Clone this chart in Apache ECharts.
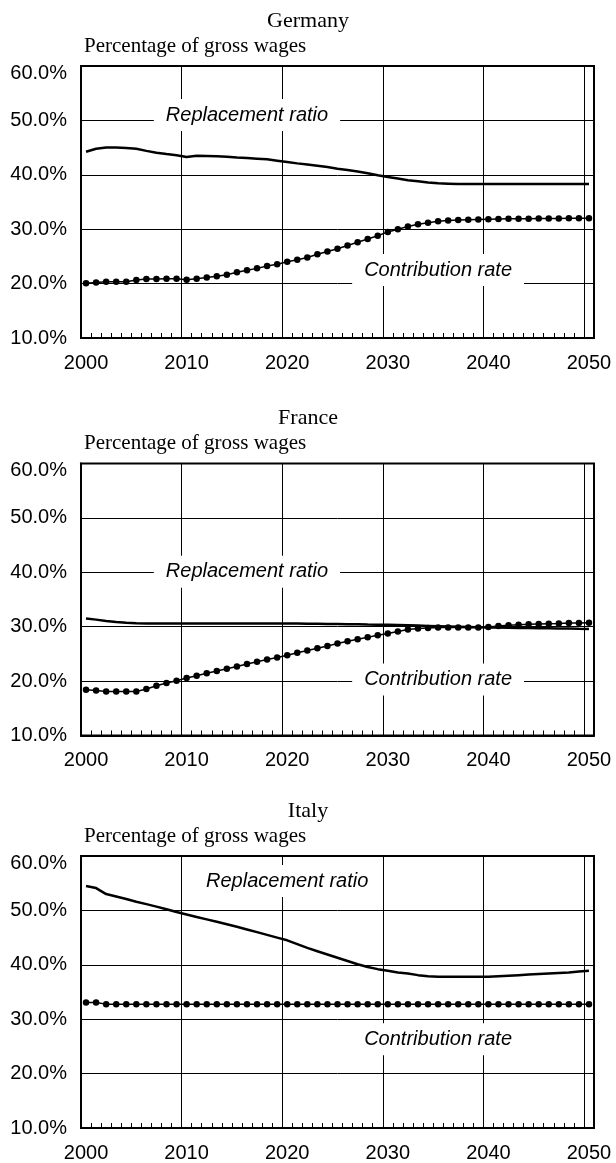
<!DOCTYPE html>
<html><head><meta charset="utf-8">
<script src="https://cdn.jsdelivr.net/npm/echarts@6/dist/echarts.min.js"></script>
<style>html,body{margin:0;padding:0;background:#fff}#c{width:616px;height:1163px}</style>
</head><body><div id="c"></div>
<script>
// ---------------- DATA ----------------
const years = ['2000','2001','2002','2003','2004','2005','2006','2007','2008','2009',
  '2010','2011','2012','2013','2014','2015','2016','2017','2018','2019',
  '2020','2021','2022','2023','2024','2025','2026','2027','2028','2029',
  '2030','2031','2032','2033','2034','2035','2036','2037','2038','2039',
  '2040','2041','2042','2043','2044','2045','2046','2047','2048','2049','2050'];
const panelTitles = ['Germany', 'France', 'Italy'];
const unitLabel = 'Percentage of gross wages';
const seriesNames = ['Replacement ratio', 'Contribution rate'];
const yTickValues = [10, 20, 30, 40, 50, 60];

const germanyReplacement = [44.25,44.8,45.0,45.0,44.93,44.8,44.4,44.07,43.82,43.58,
  43.27,43.52,43.46,43.4,43.33,43.2,43.09,42.97,42.84,42.6,
  42.35,42.1,41.9,41.67,41.43,41.13,40.9,40.6,40.27,39.9,
  39.6,39.3,39.0,38.8,38.6,38.44,38.37,38.3,38.3,38.3,
  38.3,38.3,38.3,38.3,38.3,38.3,38.3,38.3,38.3,38.3,38.3];
const germanyContribution = [20.05,20.2,20.35,20.35,20.35,20.66,20.85,20.85,20.9,20.9,
  20.72,20.9,21.1,21.34,21.64,22.07,22.44,22.8,23.24,23.54,
  24.0,24.4,24.8,25.4,25.9,26.4,27.0,27.6,28.2,28.8,
  29.5,30.0,30.5,30.9,31.2,31.45,31.6,31.7,31.75,31.8,
  31.85,31.88,31.9,31.9,31.92,31.95,31.95,31.97,32.0,32.0,32.0];

const franceReplacement = [31.5,31.3,31.05,30.85,30.73,30.62,30.6,30.6,30.6,30.6,
  30.6,30.6,30.6,30.6,30.6,30.6,30.6,30.6,30.6,30.6,
  30.6,30.58,30.56,30.53,30.5,30.48,30.46,30.43,30.4,30.38,
  30.35,30.3,30.25,30.2,30.15,30.1,30.05,30.0,29.95,29.9,
  29.85,29.83,29.8,29.77,29.75,29.72,29.7,29.67,29.65,29.62,29.6];
const franceContribution = [18.43,18.25,18.07,18.07,18.07,18.07,18.55,19.16,19.65,20.07,
  20.57,21.0,21.43,21.85,22.27,22.7,23.13,23.55,23.98,24.35,
  24.77,25.2,25.63,26.05,26.47,26.9,27.33,27.7,28.06,28.43,
  28.73,29.1,29.47,29.65,29.77,29.85,29.85,29.85,29.85,29.85,
  29.95,30.13,30.25,30.37,30.43,30.5,30.55,30.6,30.67,30.7,30.73];

const italyReplacement = [54.5,54.1,53.0,52.55,52.1,51.6,51.15,50.7,50.2,49.7,
  49.25,48.8,48.35,47.9,47.45,47.0,46.5,46.0,45.5,45.0,
  44.5,43.8,43.1,42.5,41.9,41.3,40.7,40.1,39.6,39.2,
  38.9,38.6,38.4,38.1,37.9,37.8,37.8,37.8,37.8,37.8,
  37.8,37.9,38.0,38.1,38.2,38.3,38.4,38.5,38.6,38.75,38.9];
const italyContribution = [33.08,33.08,32.77,32.77,32.77,32.77,32.77,32.77,32.77,32.77,
  32.77,32.77,32.77,32.77,32.77,32.77,32.77,32.77,32.77,32.77,
  32.77,32.77,32.77,32.77,32.77,32.77,32.77,32.77,32.77,32.77,
  32.77,32.77,32.77,32.77,32.77,32.77,32.77,32.77,32.77,32.77,
  32.77,32.77,32.77,32.77,32.77,32.77,32.77,32.77,32.77,32.77,32.77];

const replacementSets = [germanyReplacement, franceReplacement, italyReplacement];
const contributionSets = [germanyContribution, franceContribution, italyContribution];

// ---------------- LAYOUT (not data) ----------------
const gridTops = [66, 463.5, 856];
const gridHeight = 272;
const gridLeft = 81, gridRight = 22;
// annotation anchors in axis space: [category index, value]
const annotationAnchors = [
  [[16, 51.0], [35, 22.5]],
  [[16, 40.1], [35, 20.3]],
  [[20, 55.4], [35, 26.3]]
];

const SANS = 'Liberation Sans';
const SERIF = 'Liberation Serif';

const grids = [], xAxes = [], yAxes = [], series = [], graphics = [];
gridTops.forEach((top, i) => {
  grids.push({left: gridLeft, right: gridRight, top: top, height: gridHeight,
    show: true, borderColor: '#000', borderWidth: 2, backgroundColor: 'transparent'});
  xAxes.push({
    gridIndex: i, type: 'category', data: years, boundaryGap: true,
    axisLine: {show: true, lineStyle: {color: '#000', width: 2}},
    axisTick: {show: true, inside: true, length: 5, interval: 0, lineStyle: {color: '#000', width: 1}},
    axisLabel: {interval: (idx) => idx % 10 === 0, color: '#000', fontSize: 20, fontFamily: SANS, margin: 15},
    splitLine: {show: true, interval: (idx) => idx % 10 === 0, lineStyle: {color: '#000', width: 1}}
  });
  yAxes.push({
    gridIndex: i, type: 'value', min: yTickValues[0], max: yTickValues[yTickValues.length - 1], interval: 10,
    axisLine: {show: true, lineStyle: {color: '#000', width: 2}},
    axisTick: {show: false},
    axisLabel: {
      color: '#000', fontSize: 20, fontFamily: SANS, margin: 14,
      formatter: (v) => v === 60 ? '{top|' + v.toFixed(1) + '%}' : v.toFixed(1) + '%',
      rich: {top: {fontSize: 20, fontFamily: SANS, color: '#000', padding: [14, 0, 0, 0]}}
    },
    splitLine: {show: true, lineStyle: {color: '#000', width: 1}}
  });
  series.push({
    name: seriesNames[0], type: 'line', xAxisIndex: i, yAxisIndex: i,
    data: replacementSets[i], showSymbol: false, symbol: 'none',
    lineStyle: {color: '#000', width: 2.5}, z: 3
  });
  series.push({
    name: seriesNames[1], type: 'line', xAxisIndex: i, yAxisIndex: i,
    data: contributionSets[i], symbol: 'circle', symbolSize: 6.5, showSymbol: true,
    lineStyle: {color: '#000', width: 1.5}, itemStyle: {color: '#000'}, z: 3
  });
  series.push({
    type: 'scatter', xAxisIndex: i, yAxisIndex: i, silent: true, z: 4,
    symbolSize: 1, itemStyle: {color: '#fff', opacity: 1},
    data: annotationAnchors[i].map((a, k) => ({value: a, label: {formatter: seriesNames[k]}})),
    label: {show: true, position: 'inside', fontStyle: 'italic', fontSize: 20, fontFamily: SANS,
      color: '#000', opacity: 1, backgroundColor: '#fff', padding: [6, 12]}
  });
  graphics.push({type: 'text', x: 308, y: top - 45, silent: true,
    style: {text: panelTitles[i], font: '22px "' + SERIF + '"', fill: '#000', align: 'center', verticalAlign: 'middle'}});
  graphics.push({type: 'text', x: 84, y: top - 20, silent: true,
    style: {text: unitLabel, font: '21px "' + SERIF + '"', fill: '#000', align: 'left', verticalAlign: 'middle'}});
});

const chart = echarts.init(document.getElementById('c'), null, {renderer: 'canvas'});
chart.setOption({
  animation: false,
  backgroundColor: '#fff',
  grid: grids, xAxis: xAxes, yAxis: yAxes, series: series, graphic: graphics
});
</script></body></html>
